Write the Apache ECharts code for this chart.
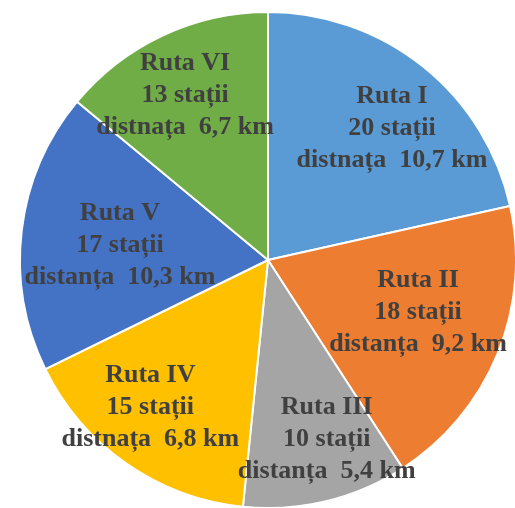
<!DOCTYPE html>
<html>
<head>
<meta charset="utf-8">
<script src="https://cdn.jsdelivr.net/npm/echarts@6/dist/echarts.min.js"></script>
<style>
  html, body { margin: 0; padding: 0; background: #fff; }
  #chart { width: 515px; height: 508px; }
</style>
</head>
<body>
<div id="chart"></div>
<script>
// Bus routes: number of stations (slice size) and route length
const routes = ['Ruta I', 'Ruta II', 'Ruta III', 'Ruta IV', 'Ruta V', 'Ruta VI'];
const stations = [20, 18, 10, 15, 17, 13];
const distanceWords = ['distnața', 'distanța', 'distanța', 'distnața', 'distanța', 'distnața'];
const distancesKm = ['10,7', '9,2', '5,4', '6,8', '10,3', '6,7'];
const colors = ['#5B9BD5', '#ED7D31', '#A5A5A5', '#FFC000', '#4472C4', '#70AD47'];

// Label placement inside each slice: fraction of the radius, and a small
// turn (degrees, clockwise) away from the slice's middle direction
const labelRadius = [0.73, 0.64, 0.76, 0.76, 0.6, 0.745];
const labelTurn = [4.5, -3.2, -4.6, 3.8, -1, -1.5];

const center = [268, 260];
const radius = 248;

const chart = echarts.init(document.getElementById('chart'), null, { renderer: 'canvas' });

chart.setOption({
  animation: false,
  series: [{
    type: 'pie',
    center: center,
    radius: radius,
    startAngle: 90,
    clockwise: true,
    avoidLabelOverlap: false,
    itemStyle: { borderColor: '#ffffff', borderWidth: 2 },
    label: {
      show: true,
      position: 'inside',
      fontFamily: '"Liberation Serif", "Times New Roman", serif',
      fontWeight: 'bold',
      fontSize: 26,
      lineHeight: 32,
      color: '#404040',
      align: 'center',
      formatter: function (p) {
        const i = p.dataIndex;
        return routes[i] + '\n' + stations[i] + ' stații\n' + distanceWords[i] + '  ' + distancesKm[i] + ' km';
      }
    },
    labelLine: { show: false },
    // 'inside' puts a label on the slice's middle direction; move it out along
    // a slightly turned direction to its own distance from the centre
    labelLayout: function (params) {
      const i = params.dataIndex;
      const r = params.labelRect;
      const lx = r.x + r.width / 2;
      const ly = r.y + r.height / 2;
      const a = Math.atan2(ly - center[1], lx - center[0]) + labelTurn[i] * Math.PI / 180;
      const d = labelRadius[i] * radius;
      const tx = center[0] + d * Math.cos(a);
      const ty = center[1] + d * Math.sin(a);
      return { dx: tx - lx, dy: ty - ly };
    },
    emphasis: { disabled: true },
    data: routes.map(function (name, i) {
      return { name: name, value: stations[i], itemStyle: { color: colors[i] } };
    })
  }]
});
</script>
</body>
</html>
